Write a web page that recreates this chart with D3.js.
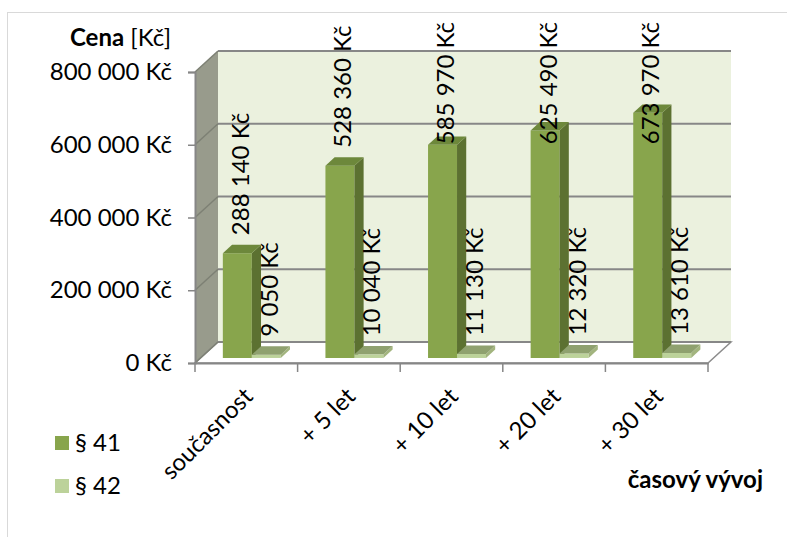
<!DOCTYPE html>
<html>
<head>
<meta charset="utf-8">
<script src="https://cdn.jsdelivr.net/npm/d3@7"></script>
<style>
  html, body { margin: 0; padding: 0; background: #fff; }
  svg { display: block; font-family: Lato, "Open Sans", sans-serif; }
</style>
</head>
<body>
<div id="chart"></div>
<script>
const categories = ['současnost', '+ 5 let', '+ 10 let', '+ 20 let', '+ 30 let'];
const seriesNames = ['§ 41', '§ 42'];
const par41 = [288140, 528360, 585970, 625490, 673970];
const par42 = [9050, 10040, 11130, 12320, 13610];
const yTicks = [0, 200000, 400000, 600000, 800000];

const width = 787, height = 537;
const fontSize = 24;

// oblique depth of the 3d box
const depthX = 23, depthY = 21;
const proj = (x, y, d) => [x + d * depthX, y - d * depthY];
const barD0 = 0.24, barD1 = 0.64;

const colors = {
  s41: { front: '#88a54c', side: '#5c7131', top: '#6d883b' },
  s42: { front: '#bcd29a', side: '#a2b47e', top: '#8fa16f' }
};

const cz = d3.formatLocale({ decimal: ',', thousands: '\u00a0', grouping: [3], currency: ['', ' Kč'] });
const fmt = v => cz.format(',')(v) + ' Kč';

const svg = d3.select('#chart').append('svg')
  .attr('width', width)
  .attr('height', height);

// chart border
svg.append('rect')
  .attr('x', 7.5).attr('y', 12.5)
  .attr('width', 800).attr('height', 560)
  .attr('fill', '#fff')
  .attr('stroke', '#d9d9d9');

const x0 = d3.scaleBand().domain(categories).range([195, 708]);
const x1 = d3.scaleBand().domain(seriesNames).range([0, x0.bandwidth()]).paddingOuter(0.77);
const y = d3.scaleLinear().domain([0, 800000]).range([363, 72]);

const poly = pts => 'M' + pts.map(p => p.join(',')).join('L') + 'Z';
const left = x0.range()[0], right = x0.range()[1];
const yTop = y(800000), yBot = y(0);

// side wall
svg.append('path')
  .attr('d', poly([proj(left, yBot, 0), proj(left, yTop, 0), proj(left, yTop, 1), proj(left, yBot, 1)]))
  .attr('fill', '#989b8c');
// back wall
svg.append('path')
  .attr('d', poly([proj(left, yBot, 1), proj(left, yTop, 1), proj(right, yTop, 1), proj(right, yBot, 1)]))
  .attr('fill', '#ebf1de');
// floor
svg.append('path')
  .attr('d', poly([proj(left, yBot, 0), proj(right, yBot, 0), proj(right, yBot, 1), proj(left, yBot, 1)]))
  .attr('fill', '#fff')
  .attr('stroke', '#8c8c8c')
  .attr('stroke-width', 1.5);

// gridlines
yTicks.forEach(v => {
  const a = proj(left, y(v), 1), b = proj(right, y(v), 1), c = proj(left, y(v), 0);
  svg.append('line')
    .attr('x1', a[0]).attr('y1', a[1]).attr('x2', b[0]).attr('y2', b[1])
    .attr('stroke', '#878787').attr('stroke-width', 2);
  svg.append('line')
    .attr('x1', c[0]).attr('y1', c[1]).attr('x2', a[0]).attr('y2', a[1])
    .attr('stroke', '#7d8074').attr('stroke-width', 1.5);
});

// y axis
const yAxis = svg.append('g')
  .attr('transform', `translate(${left},0)`)
  .call(d3.axisLeft(y).tickValues(yTicks).tickSize(7).tickPadding(16).tickFormat(fmt));
yAxis.select('.domain').attr('stroke', '#868686').attr('stroke-width', 2);
yAxis.selectAll('.tick line').attr('stroke', '#868686').attr('stroke-width', 1.5);
yAxis.selectAll('.tick text')
  .attr('font-family', 'Lato, sans-serif')
  .attr('font-size', fontSize)
  .attr('fill', '#000');

// x axis
const xAxis = svg.append('g')
  .attr('transform', `translate(0,${yBot})`)
  .call(d3.axisBottom(x0).tickSize(0).tickFormat(''));
xAxis.select('.domain').attr('stroke', '#868686').attr('stroke-width', 2);
const bounds = categories.map(c => x0(c)).concat([right]);
xAxis.selectAll('.bound').data(bounds).join('line')
  .attr('x1', d => d).attr('x2', d => d)
  .attr('y1', 0).attr('y2', 9)
  .attr('stroke', '#868686').attr('stroke-width', 1.5);

svg.append('g').selectAll('text').data(categories).join('text')
  .attr('transform', d => `translate(${x0(d) + x0.bandwidth() / 2 + 8},${yBot + 35}) rotate(-45)`)
  .attr('text-anchor', 'end')
  .attr('font-size', fontSize)
  .text(d => d);

// bars
const rows = categories.map((c, i) => ({ cat: c, values: [par41[i], par42[i]] }));
const barG = svg.append('g');
rows.forEach(r => {
  r.values.forEach((v, j) => {
    const key = j === 0 ? 's41' : 's42';
    const bx0 = x0(r.cat) + x1(seriesNames[j]);
    const bx1 = bx0 + x1.bandwidth();
    const yt = y(v);
    const g = barG.append('g');
    g.append('path')
      .attr('d', poly([proj(bx0, yBot, barD0), proj(bx1, yBot, barD0), proj(bx1, yt, barD0), proj(bx0, yt, barD0)]))
      .attr('fill', colors[key].front);
    g.append('path')
      .attr('d', poly([proj(bx1, yBot, barD0), proj(bx1, yBot, barD1), proj(bx1, yt, barD1), proj(bx1, yt, barD0)]))
      .attr('fill', colors[key].side);
    g.append('path')
      .attr('d', poly([proj(bx0, yt, barD0), proj(bx1, yt, barD0), proj(bx1, yt, barD1), proj(bx0, yt, barD1)]))
      .attr('fill', colors[key].top);
  });
});

// data labels
const labelG = svg.append('g');
rows.forEach(r => {
  r.values.forEach((v, j) => {
    const bx0 = x0(r.cat) + x1(seriesNames[j]);
    const front = proj(bx0 + x1.bandwidth() / 2, y(v), barD0);
    const t = labelG.append('text')
      .attr('font-size', fontSize)
      .attr('fill', '#000')
      .text(fmt(v));
    const len = t.node().getComputedTextLength();
    let start = front[1] - 18;
    if (start - len < 22) start = 22 + len;
    t.attr('transform', `translate(${front[0] + 11.5},${start}) rotate(-90)`);
  });
});

// axis titles
const yt = svg.append('text')
  .attr('x', 70).attr('y', 46)
  .attr('font-size', fontSize);
yt.append('tspan').attr('font-weight', 'bold').text('Cena');
yt.append('tspan').text(' [Kč]');

svg.append('text')
  .attr('x', 763).attr('y', 488)
  .attr('text-anchor', 'end')
  .attr('font-size', fontSize)
  .attr('font-weight', 'bold')
  .text('časový vývoj');

// legend
const legend = svg.append('g');
seriesNames.forEach((s, i) => {
  const key = i === 0 ? 's41' : 's42';
  legend.append('rect')
    .attr('x', 55).attr('y', 436 + i * 43)
    .attr('width', 14).attr('height', 14)
    .attr('fill', colors[key].front);
  legend.append('text')
    .attr('x', 75).attr('y', 443 + i * 43)
    .attr('dy', '0.35em')
    .attr('font-size', fontSize)
    .text(s);
});
</script>
</body>
</html>
